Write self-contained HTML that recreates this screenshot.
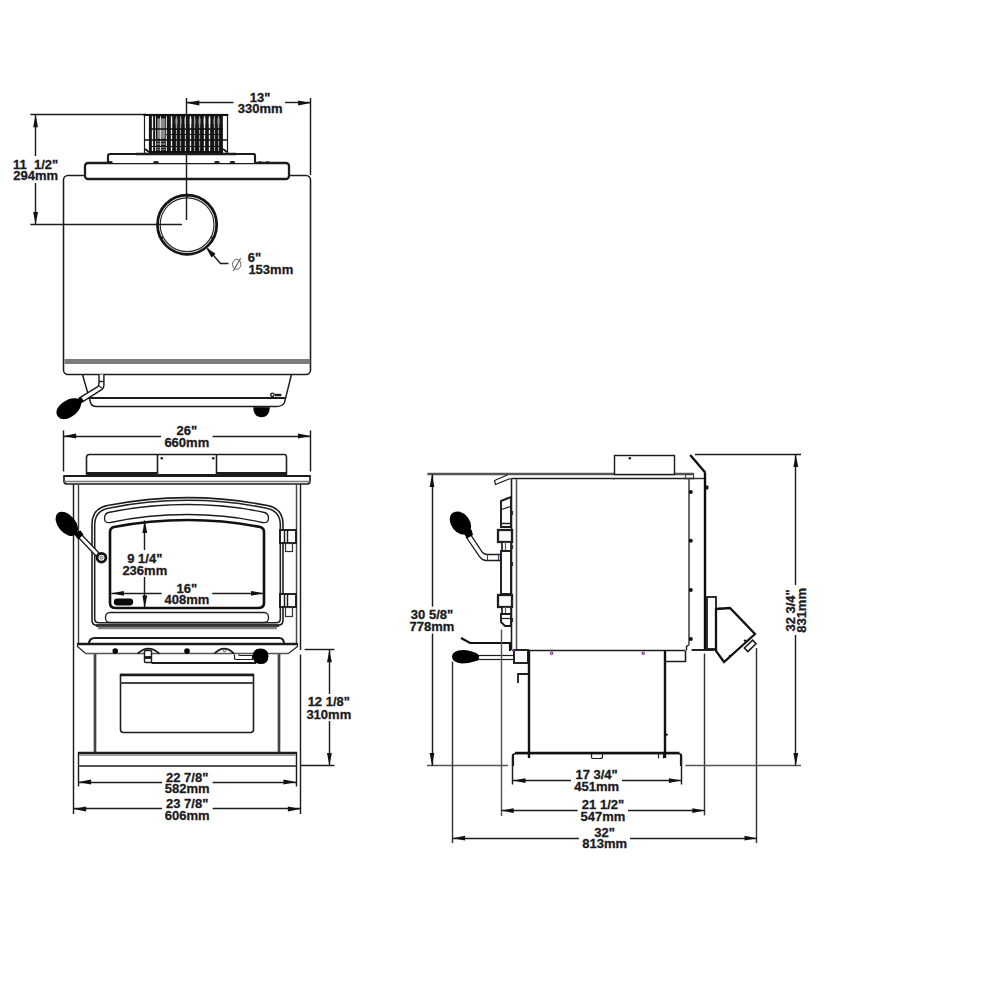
<!DOCTYPE html>
<html><head><meta charset="utf-8"><title>Stove dimensions</title>
<style>
html,body{margin:0;padding:0;background:#fff;}
body{width:1000px;height:1000px;overflow:hidden;font-family:"Liberation Sans",sans-serif;}
svg{display:block;}
svg text{font-family:"Liberation Sans",sans-serif;font-weight:bold;fill:#1b1b22;stroke:#1b1b22;stroke-width:0.3px;}
</style></head><body>
<svg width="1000" height="1000" viewBox="0 0 1000 1000">
<rect x="0" y="0" width="1000" height="1000" fill="#fff"/>
<line x1="30.4" y1="114.5" x2="146" y2="114.5" stroke="#1c1c1c" stroke-width="1.44" />
<line x1="30.4" y1="224.5" x2="182" y2="224.5" stroke="#1c1c1c" stroke-width="1.44" />
<line x1="35.5" y1="114.8" x2="35.5" y2="156" stroke="#1c1c1c" stroke-width="1.44" />
<line x1="35.5" y1="183" x2="35.5" y2="224.6" stroke="#1c1c1c" stroke-width="1.44" />
<polygon points="35.6,114.8 33.2,127.3 38.0,127.3" fill="#111"/>
<polygon points="35.6,224.6 33.2,212.1 38.0,212.1" fill="#111"/>
<text x="35.6" y="168.7" text-anchor="middle" font-size="13" style="white-space:pre">11  1/2&quot;</text>
<text x="35.6" y="180.3" text-anchor="middle" font-size="13" style="white-space:pre">294mm</text>
<path d="M82.5,374.5 L90.5,402.5 Q91.5,406.5 96.5,406.5 L276.5,406.5 Q282.5,406.5 284.5,402.5 L291.5,374.5" stroke="#1c1c1c" stroke-width="1.44" fill="none" />
<line x1="88.5" y1="398.0" x2="285.5" y2="398.0" stroke="#1c1c1c" stroke-width="2.16" />
<path d="M253.5,407.5 L269.5,407.5 Q269.5,412.5 266.5,415.5 Q261.5,418.5 256.5,415.5 Q253.5,412.5 253.5,407.5 Z" stroke="#000" stroke-width="0.6" fill="#000" />
<circle cx="272.4" cy="394.8" r="1.7" stroke="#1c1c1c" stroke-width="1.44" fill="none"/>
<line x1="275" y1="395.0" x2="281.4" y2="395.0" stroke="#1c1c1c" stroke-width="2.4" />
<rect x="63.5" y="175.5" width="247.0" height="199.0" rx="4.5" ry="4.5" stroke="#1c1c1c" stroke-width="1.56" fill="#fff"/>
<rect x="64.4" y="359.0" width="245.8" height="5.0" rx="0" ry="0" stroke="none" stroke-width="0" fill="#7c7c7c"/>
<path d="M99,374.4 L99,383 Q99,385.6 97.4,386.8 L79.4,397.9 L82.9,401.6 L102,389.4 Q103.9,388 103.9,385.5 L103.9,374.4" stroke="#1c1c1c" stroke-width="1.44" fill="#fff" />
<line x1="99" y1="381.5" x2="103.9" y2="381.5" stroke="#1c1c1c" stroke-width="1.32" />
<path d="M98.6,385.8 L102.8,388.6" stroke="#333" stroke-width="1.2" fill="none" />
<path transform="translate(81.8,399.6) rotate(145.5) scale(0.93)" d="M-1,-2.4 L3,-3.2 C7,-7.6 12,-9 18.5,-9 C26.5,-9 31.5,-5 31.5,0 C31.5,5 26.5,9 18.5,9 C12,9 7,7.6 3,3.2 L-1,2.4 Z" fill="#000"/>
<rect x="85.0" y="163.0" width="204.0" height="16.0" rx="3" ry="3" stroke="#1c1c1c" stroke-width="2.28" fill="#fff"/>
<path d="M108,163 L108,156 Q108,154 110,154 L254,154 Q255,154 255,156 L255,163" stroke="#1c1c1c" stroke-width="2.16" fill="#fff" />
<ellipse cx="156" cy="162.2" rx="2.8" ry="1.2" fill="#1c1c1c"/>
<ellipse cx="217" cy="162.2" rx="2.8" ry="1.2" fill="#1c1c1c"/>
<ellipse cx="232.4" cy="162.2" rx="2.8" ry="1.2" fill="#1c1c1c"/>
<ellipse cx="110" cy="162.2" rx="2.8" ry="1.2" fill="#1c1c1c"/>
<ellipse cx="260" cy="162.4" rx="2.2" ry="1.1" fill="#1c1c1c"/>
<ellipse cx="267.5" cy="162.4" rx="2.2" ry="1.1" fill="#1c1c1c"/>
<g>
<rect x="144.5" y="114.5" width="83.0" height="39.0" rx="0" ry="0" stroke="#1c1c1c" stroke-width="1.2" fill="#fff"/>
<rect x="148.9" y="115.6" width="74.0" height="38" rx="0" ry="0" stroke="none" stroke-width="0" fill="#141414"/>
<rect x="172.5" y="118.4" width="50" height="5.6" rx="0" ry="0" stroke="none" stroke-width="0" fill="#7d7d7d"/>
<rect x="172.5" y="124" width="50" height="3.4" rx="0" ry="0" stroke="none" stroke-width="0" fill="#3c3c3c"/>
<rect x="157.2" y="118.4" width="8.2" height="20.4" rx="0" ry="0" stroke="none" stroke-width="0" fill="#8a8a8a"/>
<rect x="156.4" y="140.6" width="9.4" height="9.6" rx="0" ry="0" stroke="none" stroke-width="0" fill="#6e6e6e"/>
<line x1="156.4" y1="142.5" x2="165.8" y2="142.5" stroke="#1a1a1a" stroke-width="0.96" />
<line x1="156.4" y1="145.5" x2="165.8" y2="145.5" stroke="#1a1a1a" stroke-width="0.96" />
<line x1="156.4" y1="148.5" x2="165.8" y2="148.5" stroke="#1a1a1a" stroke-width="0.96" />
<line x1="174.0" y1="116.5" x2="174.0" y2="127.4" stroke="#161616" stroke-width="2.64" />
<line x1="179.0" y1="116.5" x2="179.0" y2="127.4" stroke="#161616" stroke-width="2.64" />
<line x1="183.0" y1="116.5" x2="183.0" y2="127.4" stroke="#161616" stroke-width="2.64" />
<line x1="188.0" y1="116.5" x2="188.0" y2="127.4" stroke="#161616" stroke-width="2.64" />
<line x1="193.0" y1="116.5" x2="193.0" y2="127.4" stroke="#161616" stroke-width="2.64" />
<line x1="197.0" y1="116.5" x2="197.0" y2="127.4" stroke="#161616" stroke-width="2.64" />
<line x1="202.0" y1="116.5" x2="202.0" y2="127.4" stroke="#161616" stroke-width="2.64" />
<line x1="207.0" y1="116.5" x2="207.0" y2="127.4" stroke="#161616" stroke-width="2.64" />
<line x1="212.0" y1="116.5" x2="212.0" y2="127.4" stroke="#161616" stroke-width="2.64" />
<line x1="216.0" y1="116.5" x2="216.0" y2="127.4" stroke="#161616" stroke-width="2.64" />
<line x1="221.0" y1="116.5" x2="221.0" y2="127.4" stroke="#161616" stroke-width="2.64" />
<line x1="152.5" y1="116.2" x2="152.5" y2="152" stroke="#f2f2f2" stroke-width="1.32" />
<line x1="171.5" y1="116.2" x2="171.5" y2="152" stroke="#f2f2f2" stroke-width="1.32" />
<line x1="185.5" y1="116.2" x2="185.5" y2="152" stroke="#f2f2f2" stroke-width="1.32" />
<line x1="190.5" y1="116.2" x2="190.5" y2="152" stroke="#f2f2f2" stroke-width="1.32" />
<line x1="204.5" y1="116.2" x2="204.5" y2="152" stroke="#f2f2f2" stroke-width="1.32" />
<line x1="209.5" y1="116.2" x2="209.5" y2="152" stroke="#f2f2f2" stroke-width="1.32" />
<line x1="155.5" y1="116.2" x2="155.5" y2="152" stroke="#d8d8d8" stroke-width="0.96" />
<line x1="160.5" y1="116.2" x2="160.5" y2="152" stroke="#d8d8d8" stroke-width="0.96" />
<line x1="166.5" y1="116.2" x2="166.5" y2="152" stroke="#d8d8d8" stroke-width="0.96" />
<line x1="176.5" y1="116.2" x2="176.5" y2="152" stroke="#9c9c9c" stroke-width="1.2" />
<line x1="180.5" y1="116.2" x2="180.5" y2="152" stroke="#9c9c9c" stroke-width="1.2" />
<line x1="194.5" y1="116.2" x2="194.5" y2="152" stroke="#9c9c9c" stroke-width="1.2" />
<line x1="199.5" y1="116.2" x2="199.5" y2="152" stroke="#9c9c9c" stroke-width="1.2" />
<line x1="214.5" y1="116.2" x2="214.5" y2="152" stroke="#9c9c9c" stroke-width="1.2" />
<line x1="218.5" y1="116.2" x2="218.5" y2="152" stroke="#9c9c9c" stroke-width="1.2" />
<line x1="149" y1="129.0" x2="223" y2="129.0" stroke="#101010" stroke-width="1.68" />
<line x1="166" y1="134.5" x2="223" y2="134.5" stroke="#161616" stroke-width="1.2" />
<line x1="144.3" y1="140.0" x2="227.7" y2="140.0" stroke="#101010" stroke-width="1.68" />
<line x1="149" y1="146.5" x2="223" y2="146.5" stroke="#161616" stroke-width="1.2" />
<line x1="149" y1="152.0" x2="223" y2="152.0" stroke="#101010" stroke-width="1.92" />
<line x1="143.5" y1="115.0" x2="228.2" y2="115.0" stroke="#111" stroke-width="1.8" />
<path d="M145,149 L149,152" stroke="#111" stroke-width="1.68" fill="none" />
<path d="M223,149 L227,152" stroke="#111" stroke-width="1.68" fill="none" />
</g>
<line x1="136" y1="154.0" x2="236" y2="154.0" stroke="#1c1c1c" stroke-width="2.64" />
<circle cx="187.1" cy="224.7" r="29.6" stroke="#151515" stroke-width="2.76" fill="#fff"/>
<circle cx="187.1" cy="224.7" r="26.9" stroke="#2a2a2a" stroke-width="1.2" fill="none"/>
<line x1="161.4" y1="236.6" x2="163.2" y2="238.4" stroke="#1c1c1c" stroke-width="1.44" />
<line x1="210.6" y1="238.6" x2="212.6" y2="236.6" stroke="#1c1c1c" stroke-width="1.44" />
<line x1="187.0" y1="193.5" x2="187.0" y2="197" stroke="#1c1c1c" stroke-width="2.64" />
<line x1="186.5" y1="98" x2="186.5" y2="220" stroke="#1c1c1c" stroke-width="1.44" />
<line x1="64" y1="224.5" x2="182" y2="224.5" stroke="#1c1c1c" stroke-width="1.44" />
<line x1="310.5" y1="98" x2="310.5" y2="175" stroke="#1c1c1c" stroke-width="1.44" />
<line x1="186.8" y1="102.5" x2="233.5" y2="102.5" stroke="#1c1c1c" stroke-width="1.44" />
<line x1="285" y1="102.5" x2="310.6" y2="102.5" stroke="#1c1c1c" stroke-width="1.44" />
<polygon points="186.8,103 199.3,100.6 199.3,105.4" fill="#111"/>
<polygon points="310.6,103 298.1,100.6 298.1,105.4" fill="#111"/>
<text x="260.1" y="101.6" text-anchor="middle" font-size="13" style="white-space:pre">13&quot;</text>
<text x="260.1" y="113.2" text-anchor="middle" font-size="13" style="white-space:pre">330mm</text>
<path d="M207.5,248.5 L220.5,263.5 L228.5,263.5" stroke="#1c1c1c" stroke-width="1.44" fill="none" />
<polygon points="206,247.4 215.6,253.8 211.4,257.4" fill="#111"/>
<ellipse cx="236.7" cy="264.3" rx="4.2" ry="5.0" fill="none" stroke="#555" stroke-width="0.9"/>
<line x1="233.2" y1="271" x2="240.7" y2="258.2" stroke="#555" stroke-width="1.08" />
<text x="247.8" y="262.4" text-anchor="start" font-size="13" style="white-space:pre">6&quot;</text>
<text x="248.4" y="274.2" text-anchor="start" font-size="13" style="white-space:pre">153mm</text>
<line x1="63.5" y1="430.4" x2="63.5" y2="471.5" stroke="#1c1c1c" stroke-width="1.44" />
<line x1="310.5" y1="430.4" x2="310.5" y2="471.5" stroke="#1c1c1c" stroke-width="1.44" />
<line x1="63.6" y1="436.5" x2="161" y2="436.5" stroke="#1c1c1c" stroke-width="1.44" />
<line x1="212.6" y1="436.5" x2="310.5" y2="436.5" stroke="#1c1c1c" stroke-width="1.44" />
<polygon points="63.6,436 76.1,433.6 76.1,438.4" fill="#111"/>
<polygon points="310.5,436 298.0,433.6 298.0,438.4" fill="#111"/>
<text x="186.8" y="435.4" text-anchor="middle" font-size="13" style="white-space:pre">26&quot;</text>
<text x="186.8" y="447.2" text-anchor="middle" font-size="13" style="white-space:pre">660mm</text>
<path d="M86.5,474.5 L86.5,457.5 Q86.5,454.5 89.5,454.5 L284.5,454.5 Q286.5,454.5 286.5,457.5 L286.5,474.5" stroke="#1c1c1c" stroke-width="1.56" fill="#fff" />
<line x1="157.5" y1="454.6" x2="157.5" y2="474" stroke="#1c1c1c" stroke-width="1.56" />
<line x1="216.5" y1="454.6" x2="216.5" y2="474" stroke="#1c1c1c" stroke-width="1.56" />
<line x1="86.2" y1="473.5" x2="157.6" y2="473.5" stroke="#1c1c1c" stroke-width="2.88" />
<line x1="216.8" y1="473.5" x2="287" y2="473.5" stroke="#1c1c1c" stroke-width="2.88" />
<line x1="157.6" y1="474.5" x2="216.8" y2="474.5" stroke="#1c1c1c" stroke-width="1.2" />
<circle cx="161.8" cy="458.2" r="1.3" stroke="none" stroke-width="0" fill="#1c1c1c"/>
<circle cx="213.2" cy="458.2" r="1.3" stroke="none" stroke-width="0" fill="#1c1c1c"/>
<path d="M64,476 L310,476 L310,481 Q310,484 307,484 L67,484 Q64,484 64,481 Z" stroke="#1c1c1c" stroke-width="1.68" fill="#fff" />
<line x1="64" y1="481.5" x2="310" y2="481.5" stroke="#7a7a7a" stroke-width="1.32" />
<line x1="63.6" y1="476.0" x2="310.5" y2="476.0" stroke="#1c1c1c" stroke-width="2.16" />
<line x1="73.5" y1="484" x2="73.5" y2="650" stroke="#1c1c1c" stroke-width="1.44" />
<line x1="78.5" y1="484" x2="78.5" y2="645" stroke="#444" stroke-width="1.44" />
<line x1="296.5" y1="484" x2="296.5" y2="645" stroke="#444" stroke-width="1.44" />
<line x1="300.5" y1="484" x2="300.5" y2="650" stroke="#1c1c1c" stroke-width="1.44" />
<path d="M92,620 L92,524 Q92,508.6 107.5,505.6 Q147,497.6 187.5,497.6 Q228,497.6 267.5,505.6 Q283,508.6 283,524 L283,620 Q283,625.4 277.5,625.4 L97.5,625.4 Q92,625.4 92,620 Z" stroke="#1c1c1c" stroke-width="1.56" fill="#fff" />
<path d="M94.7,619 L94.7,525 Q94.7,511 108.5,508.2 Q147,500.3 187.5,500.3 Q228,500.3 266.5,508.2 Q280.3,511 280.3,525 L280.3,619 Q280.3,622.8 276,622.8 L99,622.8 Q94.7,622.8 94.7,619 Z" stroke="#222" stroke-width="1.56" fill="none" />
<line x1="96" y1="625.5" x2="279" y2="625.5" stroke="#333" stroke-width="2.88" />
<line x1="98" y1="628.0" x2="277" y2="628.0" stroke="#808080" stroke-width="2.64" />
<path d="M108.5,512.5 Q146.5,504.5 187.5,504.5 Q228.5,504.5 264.5,512.5 Q268.5,513.5 268.5,518.5 Q268.5,523.5 262.5,522.5 Q228.5,514.5 187.5,514.5 Q146.5,514.5 110.5,522.5 Q104.5,523.5 104.5,518.5 Q104.5,513.5 108.5,512.5 Z" stroke="#1c1c1c" stroke-width="1.32" fill="none" />
<path d="M110,603 L110,532 Q110,528 114,527 Q150,520 188,520 Q225,520 260,527 Q264,528 264,532 L264,603 Q264,608 258,608 L116,608 Q110,608 110,603 Z" stroke="#111" stroke-width="2.64" fill="none" />
<rect x="105.5" y="612.5" width="163.0" height="10.0" rx="4.5" ry="4.5" stroke="#1c1c1c" stroke-width="1.32" fill="none"/>
<rect x="113.8" y="598.6" width="19.4" height="6.8" rx="3.4" ry="3.4" stroke="none" stroke-width="0" fill="#0a0a0a"/>
<rect x="280.0" y="530.0" width="16.0" height="13.0" rx="0" ry="0" stroke="#1c1c1c" stroke-width="1.92" fill="#fff"/>
<line x1="284.5" y1="530.2" x2="284.5" y2="543.2" stroke="#1c1c1c" stroke-width="1.44" />
<line x1="287.5" y1="530.2" x2="287.5" y2="543.2" stroke="#1c1c1c" stroke-width="1.44" />
<rect x="285.5" y="543.5" width="7.0" height="8.0" rx="0" ry="0" stroke="#333" stroke-width="1.2" fill="#fff"/>
<rect x="280.0" y="594.0" width="16.0" height="13.0" rx="0" ry="0" stroke="#1c1c1c" stroke-width="1.92" fill="#fff"/>
<line x1="284.5" y1="594.4" x2="284.5" y2="607.4" stroke="#1c1c1c" stroke-width="1.44" />
<line x1="287.5" y1="594.4" x2="287.5" y2="607.4" stroke="#1c1c1c" stroke-width="1.44" />
<rect x="285.5" y="607.5" width="7.0" height="9.0" rx="0" ry="0" stroke="#333" stroke-width="1.2" fill="#fff"/>
<line x1="144.5" y1="520.4" x2="144.5" y2="550" stroke="#1c1c1c" stroke-width="1.44" />
<line x1="144.5" y1="577" x2="144.5" y2="608" stroke="#1c1c1c" stroke-width="1.44" />
<polygon points="144.8,520.4 142.4,532.9 147.20000000000002,532.9" fill="#111"/>
<polygon points="144.8,608 142.4,595.5 147.20000000000002,595.5" fill="#111"/>
<text x="144.8" y="562.8" text-anchor="middle" font-size="13" style="white-space:pre">9 1/4&quot;</text>
<text x="144.8" y="575.4" text-anchor="middle" font-size="13" style="white-space:pre">236mm</text>
<line x1="111.4" y1="593.5" x2="161.6" y2="593.5" stroke="#1c1c1c" stroke-width="1.44" />
<line x1="212.2" y1="593.5" x2="263.6" y2="593.5" stroke="#1c1c1c" stroke-width="1.44" />
<polygon points="111.4,593.3 123.9,590.9 123.9,595.6999999999999" fill="#111"/>
<polygon points="263.6,593.3 251.10000000000002,590.9 251.10000000000002,595.6999999999999" fill="#111"/>
<text x="186.9" y="592.9" text-anchor="middle" font-size="13" style="white-space:pre">16&quot;</text>
<text x="186.9" y="603.7" text-anchor="middle" font-size="13" style="white-space:pre">408mm</text>
<g>
<path d="M80.5,533.5 L99.5,553.5 L96.5,556.5 L77.5,536.5 Z" stroke="#1c1c1c" stroke-width="1.32" fill="#fff" />
<circle cx="101.5" cy="557.7" r="4.4" stroke="#111" stroke-width="2.76" fill="#fff"/>
<circle cx="101.4" cy="557.6" r="1.6" stroke="#666" stroke-width="0.96" fill="#ddd"/>
<ellipse cx="66.8" cy="523.8" rx="14" ry="8.8" transform="rotate(50 66.8 523.8)" fill="#000"/>
<polygon points="73.5,533.5 80.5,530.5 83.5,534.6 78.2,539.6" fill="#000"/>
</g>
<path d="M89,644 Q89,638 95,638 L279,638 Q284,638 284,644" stroke="#1c1c1c" stroke-width="2.04" fill="#fff" />
<path d="M77.5,643.5 L297.5,643.5 L297.5,646.5 L288.5,653.5 L85.5,653.5 L77.5,646.5 Z" stroke="#1c1c1c" stroke-width="1.2" fill="#fff" />
<line x1="77.4" y1="644.0" x2="297.4" y2="644.0" stroke="#1c1c1c" stroke-width="2.64" />
<line x1="85" y1="653.5" x2="289" y2="653.5" stroke="#555" stroke-width="1.44" />
<circle cx="115.2" cy="651" r="2.8" stroke="none" stroke-width="0" fill="#000"/>
<circle cx="187" cy="651" r="2.8" stroke="none" stroke-width="0" fill="#000"/>
<path d="M137.6,653.6 Q148.4,643.6 159.4,653.6" stroke="#1c1c1c" stroke-width="1.8" fill="none" />
<path d="M214.4,653.6 Q224.4,643.6 234,653.6" stroke="#1c1c1c" stroke-width="1.8" fill="none" />
<circle cx="148.2" cy="650.6" r="1.2" stroke="#444" stroke-width="0.96" fill="none"/>
<circle cx="224.6" cy="650.6" r="1.2" stroke="#444" stroke-width="0.96" fill="none"/>
<rect x="144.5" y="650.5" width="7.0" height="12.0" rx="1" ry="1" stroke="#1c1c1c" stroke-width="1.44" fill="#fff"/>
<line x1="145" y1="657.5" x2="151.4" y2="657.5" stroke="#1c1c1c" stroke-width="2.88" />
<line x1="151.4" y1="663.0" x2="256" y2="663.0" stroke="#1c1c1c" stroke-width="2.16" />
<path d="M234.5,654.5 L234.5,658.5 Q234.5,659.5 236.5,659.5 L252.5,659.5 L252.5,655.5 L240.5,655.5 Q238.5,655.5 238.5,654.5" stroke="#1c1c1c" stroke-width="1.2" fill="#fff" />
<path d="M252.8,656 Q252.8,649 260.6,648.6 Q268.6,649 268.4,656.4 Q268.4,664 260.6,664 Q252.8,664 252.8,656 Z" fill="#000"/>
<line x1="95.0" y1="654" x2="95.0" y2="752.4" stroke="#444" stroke-width="2.64" />
<line x1="279.0" y1="654" x2="279.0" y2="752.4" stroke="#444" stroke-width="2.64" />
<path d="M120.5,674.5 L253.5,674.5 L253.5,729.5 Q253.5,732.5 250.5,732.5 L123.5,732.5 Q120.5,732.5 120.5,729.5 Z" stroke="#1c1c1c" stroke-width="1.56" fill="#fff" />
<line x1="120.2" y1="675.0" x2="253.4" y2="675.0" stroke="#1c1c1c" stroke-width="2.64" />
<line x1="120.2" y1="683.0" x2="253.4" y2="683.0" stroke="#444" stroke-width="1.92" />
<path d="M78.5,786.5 L78.5,752.5 L296.5,752.5 L296.5,786.5" stroke="#1c1c1c" stroke-width="1.44" fill="none" />
<line x1="78.6" y1="753.0" x2="296" y2="753.0" stroke="#1c1c1c" stroke-width="1.92" />
<line x1="79" y1="755.0" x2="295.6" y2="755.0" stroke="#7a7a7a" stroke-width="1.68" />
<line x1="78.6" y1="766.0" x2="296" y2="766.0" stroke="#555" stroke-width="2.16" />
<line x1="73.5" y1="650" x2="73.5" y2="814" stroke="#1c1c1c" stroke-width="1.44" />
<line x1="300.5" y1="654.6" x2="300.5" y2="814" stroke="#1c1c1c" stroke-width="1.44" />
<line x1="78.6" y1="782.5" x2="162" y2="782.5" stroke="#1c1c1c" stroke-width="1.44" />
<line x1="212.6" y1="782.5" x2="296" y2="782.5" stroke="#1c1c1c" stroke-width="1.44" />
<polygon points="78.6,782 91.1,779.6 91.1,784.4" fill="#111"/>
<polygon points="296,782 283.5,779.6 283.5,784.4" fill="#111"/>
<text x="187.2" y="781.6" text-anchor="middle" font-size="13" style="white-space:pre">22 7/8&quot;</text>
<text x="187.2" y="792.8" text-anchor="middle" font-size="13" style="white-space:pre">582mm</text>
<line x1="73.6" y1="808.5" x2="162" y2="808.5" stroke="#1c1c1c" stroke-width="1.44" />
<line x1="212.6" y1="808.5" x2="300.4" y2="808.5" stroke="#1c1c1c" stroke-width="1.44" />
<polygon points="73.6,809 86.1,806.6 86.1,811.4" fill="#111"/>
<polygon points="300.4,809 287.9,806.6 287.9,811.4" fill="#111"/>
<text x="187.2" y="808.2" text-anchor="middle" font-size="13" style="white-space:pre">23 7/8&quot;</text>
<text x="187.2" y="819.6" text-anchor="middle" font-size="13" style="white-space:pre">606mm</text>
<line x1="304.6" y1="649.5" x2="334.4" y2="649.5" stroke="#1c1c1c" stroke-width="1.44" />
<line x1="300.6" y1="765.5" x2="334.4" y2="765.5" stroke="#1c1c1c" stroke-width="1.44" />
<line x1="329.5" y1="649.8" x2="329.5" y2="694" stroke="#1c1c1c" stroke-width="1.44" />
<line x1="329.5" y1="721" x2="329.5" y2="765.6" stroke="#1c1c1c" stroke-width="1.44" />
<polygon points="329.4,649.8 327.0,662.3 331.79999999999995,662.3" fill="#111"/>
<polygon points="329.4,765.6 327.0,753.1 331.79999999999995,753.1" fill="#111"/>
<text x="328.8" y="706.2" text-anchor="middle" font-size="13" style="white-space:pre">12 1/8&quot;</text>
<text x="328.8" y="719.2" text-anchor="middle" font-size="13" style="white-space:pre">310mm</text>
<line x1="427.4" y1="474.0" x2="694" y2="474.0" stroke="#555" stroke-width="2.4" />
<line x1="427" y1="765.5" x2="508" y2="765.5" stroke="#555" stroke-width="1.56" />
<line x1="432.5" y1="474.5" x2="432.5" y2="606.6" stroke="#1c1c1c" stroke-width="1.44" />
<line x1="432.5" y1="633.6" x2="432.5" y2="765.6" stroke="#1c1c1c" stroke-width="1.44" />
<polygon points="432,474.5 429.6,487.0 434.4,487.0" fill="#111"/>
<polygon points="432,765.6 429.6,753.1 434.4,753.1" fill="#111"/>
<text x="432" y="619.4" text-anchor="middle" font-size="13" style="white-space:pre">30 5/8&quot;</text>
<text x="432" y="630.8" text-anchor="middle" font-size="13" style="white-space:pre">778mm</text>
<rect x="614.5" y="455.5" width="60.0" height="19.0" rx="0" ry="0" stroke="#1c1c1c" stroke-width="1.44" fill="#fff"/>
<circle cx="629.8" cy="458.3" r="1.3" stroke="none" stroke-width="0" fill="#1c1c1c"/>
<path d="M511.5,478.5 L694.5,478.5" stroke="#1c1c1c" stroke-width="1.56" fill="none" />
<line x1="511.5" y1="478.2" x2="511.5" y2="650" stroke="#1c1c1c" stroke-width="1.56" />
<line x1="516.5" y1="479" x2="516.5" y2="650" stroke="#555" stroke-width="1.56" />
<line x1="689.0" y1="479" x2="689.0" y2="644" stroke="#6a6a6a" stroke-width="2.04" />
<line x1="515.6" y1="650.5" x2="685" y2="650.5" stroke="#1c1c1c" stroke-width="1.56" />
<path d="M689.5,644.5 L686.5,646.5 L686.5,650.5" stroke="#1c1c1c" stroke-width="1.44" fill="none" />
<path d="M508.5,474.5 L494.5,480.5 L495.5,484.5 L510.5,478.5" stroke="#1c1c1c" stroke-width="1.2" fill="#fff" />
<rect x="685.5" y="474.5" width="8.0" height="4.0" rx="0" ry="0" stroke="#444" stroke-width="1.08" fill="none"/>
<circle cx="690.8" cy="492" r="2.0" stroke="none" stroke-width="0" fill="#111"/>
<circle cx="690.8" cy="540.8" r="2.0" stroke="none" stroke-width="0" fill="#111"/>
<circle cx="690.8" cy="590" r="2.0" stroke="none" stroke-width="0" fill="#111"/>
<circle cx="690.8" cy="639" r="2.0" stroke="none" stroke-width="0" fill="#111"/>
<circle cx="643.2" cy="653.2" r="1.2" stroke="#7a2a8a" stroke-width="1.08" fill="none"/>
<circle cx="551.6" cy="653.2" r="1.2" stroke="#7a2a8a" stroke-width="1.08" fill="none"/>
<circle cx="614" cy="478.8" r="0.8" stroke="none" stroke-width="0" fill="#222"/>
<line x1="705.0" y1="472.8" x2="705.0" y2="649.6" stroke="#0c0c0c" stroke-width="2.4" />
<line x1="684" y1="478.5" x2="704" y2="478.5" stroke="#333" stroke-width="1.44" />
<path d="M690.2,455 L705.4,472.8" stroke="#111" stroke-width="2.4" fill="none" />
<rect x="705" y="485.4" width="3.4" height="4" rx="0.8" ry="0.8" stroke="none" stroke-width="0" fill="#111"/>
<line x1="695" y1="454.5" x2="801" y2="454.5" stroke="#1c1c1c" stroke-width="1.56" />
<line x1="691.6" y1="650.0" x2="714.6" y2="650.0" stroke="#1c1c1c" stroke-width="1.92" />
<rect x="707.0" y="597.0" width="9.0" height="52.0" rx="0" ry="0" stroke="#1c1c1c" stroke-width="1.8" fill="#fff"/>
<path d="M716,609 L730,608 L755,634 L724,662 L716,651 Z" stroke="#111" stroke-width="2.28" fill="#fff" />
<polygon points="744.4,648 752.6,640.2 756,643.8 747.8,651.6" fill="#fff" stroke="#1a1a1a" stroke-width="1.6"/>
<circle cx="730" cy="656" r="1.3" stroke="none" stroke-width="0" fill="#111"/>
<circle cx="720" cy="608.6" r="1.2" stroke="none" stroke-width="0" fill="#111"/>
<circle cx="745" cy="640.6" r="1.2" stroke="none" stroke-width="0" fill="#111"/>
<path d="M501,501 L511,497 L511,527 L501,527 Z" stroke="#1c1c1c" stroke-width="1.92" fill="#fff" />
<path d="M501.5,509.5 L510.5,506.5" stroke="#1c1c1c" stroke-width="1.2" fill="none" />
<line x1="501.2" y1="523.5" x2="511.2" y2="523.5" stroke="#1c1c1c" stroke-width="1.44" />
<rect x="498.0" y="530.0" width="14.0" height="12.0" rx="0" ry="0" stroke="#1c1c1c" stroke-width="2.28" fill="#fff"/>
<rect x="502.0" y="542.0" width="9.0" height="9.0" rx="0" ry="0" stroke="#1c1c1c" stroke-width="1.68" fill="#fff"/>
<line x1="505.5" y1="541.8" x2="505.5" y2="551.2" stroke="#555" stroke-width="1.2" />
<rect x="501.0" y="551.0" width="10.0" height="43.0" rx="0" ry="0" stroke="#1c1c1c" stroke-width="1.92" fill="#fff"/>
<rect x="498.0" y="595.0" width="14.0" height="12.0" rx="0" ry="0" stroke="#1c1c1c" stroke-width="2.28" fill="#fff"/>
<rect x="502.0" y="607.0" width="9.0" height="7.0" rx="0" ry="0" stroke="#1c1c1c" stroke-width="1.68" fill="#fff"/>
<line x1="505.5" y1="606.6" x2="505.5" y2="614" stroke="#555" stroke-width="1.2" />
<path d="M501,614 L511,614 L511,626 L505,626 L501,622 Z" stroke="#1c1c1c" stroke-width="1.92" fill="#fff" />
<line x1="501.2" y1="618.5" x2="511.2" y2="618.5" stroke="#1c1c1c" stroke-width="1.2" />
<line x1="512.5" y1="511" x2="512.5" y2="515" stroke="#333" stroke-width="1.2" />
<line x1="512.5" y1="545" x2="512.5" y2="549" stroke="#333" stroke-width="1.2" />
<line x1="512.5" y1="562" x2="512.5" y2="566" stroke="#333" stroke-width="1.2" />
<line x1="512.5" y1="600" x2="512.5" y2="604" stroke="#333" stroke-width="1.2" />
<line x1="512.5" y1="618" x2="512.5" y2="622" stroke="#333" stroke-width="1.2" />
<path d="M466.5,537.5 L479.5,556.5 Q482.5,560.5 486.5,560.5 L500.5,560.5 L500.5,554.5 L487.5,554.5 Q484.5,554.5 482.5,552.5 L470.5,534.5 Z" stroke="#1c1c1c" stroke-width="1.32" fill="#fff" />
<line x1="487.5" y1="554.6" x2="487.5" y2="560" stroke="#444" stroke-width="1.08" />
<line x1="498.5" y1="554.6" x2="498.5" y2="560" stroke="#5a3a6a" stroke-width="1.2" />
<ellipse cx="460.4" cy="523" rx="12.8" ry="9.2" transform="rotate(52 460.4 523)" fill="#000"/>
<polygon points="463.5,533 471.5,529.6 473,535 467,538.6" fill="#000"/>
<path d="M461,638 L470,643 L510,643 L510,651" stroke="#111" stroke-width="2.16" fill="none" />
<rect x="478.5" y="655.5" width="36.0" height="4.0" rx="0" ry="0" stroke="#1c1c1c" stroke-width="1.2" fill="#fff"/>
<path d="M452,656.6 Q452.6,650 463,650 Q470,650 478,654 L478,660.6 Q470,663.4 462,663.4 Q452,663 452,656.6 Z" fill="#000"/>
<rect x="514.0" y="650.0" width="14.0" height="13.0" rx="0" ry="0" stroke="#1c1c1c" stroke-width="1.92" fill="#fff"/>
<line x1="512" y1="650.5" x2="516" y2="650.5" stroke="#7a2a8a" stroke-width="1.44" />
<line x1="529.0" y1="650" x2="529.0" y2="758" stroke="#111" stroke-width="2.4" />
<line x1="665.0" y1="650" x2="665.0" y2="758" stroke="#111" stroke-width="2.4" />
<path d="M664.5,661.5 L685.5,661.5 L685.5,650.5" stroke="#1c1c1c" stroke-width="1.56" fill="none" />
<path d="M528,674 L518,674 L518,683" stroke="#1c1c1c" stroke-width="1.8" fill="none" />
<circle cx="666.6" cy="734.6" r="1.2" stroke="none" stroke-width="0" fill="#111"/>
<path d="M512.5,784.5 L512.5,756.5 Q512.5,753.5 516.5,753.5 L678.5,753.5 Q681.5,753.5 681.5,756.5 L681.5,784.5" stroke="#1c1c1c" stroke-width="1.44" fill="none" />
<line x1="515" y1="753.0" x2="679.4" y2="753.0" stroke="#111" stroke-width="2.64" />
<line x1="513.0" y1="754" x2="513.0" y2="766" stroke="#1c1c1c" stroke-width="2.16" />
<line x1="681.0" y1="754" x2="681.0" y2="766" stroke="#1c1c1c" stroke-width="2.16" />
<path d="M591.5,753.5 L591.5,756.5 Q591.5,758.5 592.5,758.5 L600.5,758.5 Q602.5,758.5 602.5,756.5 L602.5,753.5" stroke="#1c1c1c" stroke-width="1.2" fill="none" />
<line x1="658.5" y1="753.6" x2="658.5" y2="758.4" stroke="#1c1c1c" stroke-width="1.2" />
<line x1="663.5" y1="753.6" x2="663.5" y2="758.4" stroke="#1c1c1c" stroke-width="1.2" />
<line x1="452.5" y1="661.6" x2="452.5" y2="843" stroke="#333" stroke-width="1.44" />
<line x1="501.5" y1="629.6" x2="501.5" y2="816" stroke="#555" stroke-width="1.44" />
<line x1="704.5" y1="653.6" x2="704.5" y2="815.4" stroke="#333" stroke-width="1.44" />
<line x1="756.5" y1="648" x2="756.5" y2="843" stroke="#333" stroke-width="1.44" />
<line x1="685.4" y1="765.5" x2="801" y2="765.5" stroke="#555" stroke-width="1.56" />
<line x1="513" y1="780.5" x2="571" y2="780.5" stroke="#1c1c1c" stroke-width="1.44" />
<line x1="622" y1="780.5" x2="681.4" y2="780.5" stroke="#1c1c1c" stroke-width="1.44" />
<polygon points="513,780.6 525.5,778.2 525.5,783.0" fill="#111"/>
<polygon points="681.4,780.6 668.9,778.2 668.9,783.0" fill="#111"/>
<text x="596.6" y="779.4" text-anchor="middle" font-size="13" style="white-space:pre">17 3/4&quot;</text>
<text x="596.6" y="790.8" text-anchor="middle" font-size="13" style="white-space:pre">451mm</text>
<line x1="501.2" y1="810.5" x2="577.6" y2="810.5" stroke="#1c1c1c" stroke-width="1.44" />
<line x1="628" y1="810.5" x2="704.8" y2="810.5" stroke="#1c1c1c" stroke-width="1.44" />
<polygon points="501.2,810.6 513.7,808.2 513.7,813.0" fill="#111"/>
<polygon points="704.8,810.6 692.3,808.2 692.3,813.0" fill="#111"/>
<text x="603" y="809.4" text-anchor="middle" font-size="13" style="white-space:pre">21 1/2&quot;</text>
<text x="603" y="821.4" text-anchor="middle" font-size="13" style="white-space:pre">547mm</text>
<line x1="452.6" y1="838.5" x2="579" y2="838.5" stroke="#1c1c1c" stroke-width="1.44" />
<line x1="630" y1="838.5" x2="757" y2="838.5" stroke="#1c1c1c" stroke-width="1.44" />
<polygon points="452.6,838.2 465.1,835.8000000000001 465.1,840.6" fill="#111"/>
<polygon points="757,838.2 744.5,835.8000000000001 744.5,840.6" fill="#111"/>
<text x="604.6" y="837.2" text-anchor="middle" font-size="13" style="white-space:pre">32&quot;</text>
<text x="604.6" y="847.9" text-anchor="middle" font-size="13" style="white-space:pre">813mm</text>
<line x1="795.5" y1="454.4" x2="795.5" y2="585" stroke="#1c1c1c" stroke-width="1.44" />
<line x1="795.5" y1="635" x2="795.5" y2="765.6" stroke="#1c1c1c" stroke-width="1.44" />
<polygon points="795.8,454.4 793.4,466.9 798.1999999999999,466.9" fill="#111"/>
<polygon points="795.8,765.6 793.4,753.1 798.1999999999999,753.1" fill="#111"/>
<text x="794.8" y="610.4" text-anchor="middle" font-size="13" transform="rotate(-90 794.8 610.4)" style="white-space:pre">32 3/4&quot;</text>
<text x="806.4" y="610.4" text-anchor="middle" font-size="13" transform="rotate(-90 806.4 610.4)" style="white-space:pre">831mm</text>
</svg>
</body></html>
